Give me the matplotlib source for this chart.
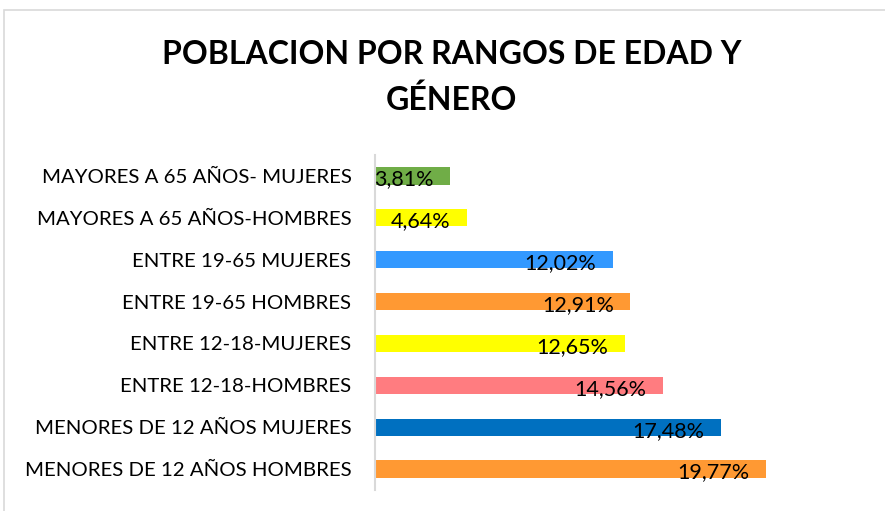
import matplotlib.pyplot as plt
from matplotlib.patches import Rectangle

plt.rcParams['font.family'] = ['Lato', 'DejaVu Sans']

categorias = ['MENORES DE 12 AÑOS HOMBRES', 'MENORES DE 12 AÑOS MUJERES',
              'ENTRE 12-18-HOMBRES', 'ENTRE 12-18-MUJERES',
              'ENTRE 19-65 HOMBRES', 'ENTRE 19-65 MUJERES',
              'MAYORES A 65 AÑOS-HOMBRES', 'MAYORES A 65 AÑOS- MUJERES']
valores = [19.77, 17.48, 14.56, 12.65, 12.91, 12.02, 4.64, 3.81]
colores = ['#FF9933', '#0070C0', '#FF7C80', '#FFFF00',
           '#FF9933', '#3399FF', '#FFFF00', '#70AD47']

fig = plt.figure(figsize=(8.85, 5.11), dpi=100)
fig.patches.append(Rectangle((4 / 885, -0.05), 1.0, 1 - 10 / 511 + 0.05,
                             transform=fig.transFigure, fill=False,
                             edgecolor='#D9D9D9', linewidth=1.2))

ax = fig.add_axes([375 / 885, 21 / 511, 440 / 885, 335 / 511])
y = range(len(categorias))
ax.barh(y, valores, height=0.41, color=colores)
ax.set_ylim(-0.5, len(categorias) - 0.5)
ax.set_xlim(0, 440 / 19.78)

for i, v in enumerate(valores):
    ax.annotate(f'{v:.2f}%'.replace('.', ','), (v, i), xytext=(-12, -2.5),
                textcoords='offset points', ha='right', va='center',
                fontsize=15.5, color='black')

ax.set_yticks(list(y))
ax.set_yticklabels(categorias, fontsize=14.7)
ax.tick_params(axis='y', length=0, pad=17)
ax.set_xticks([])
for s in ['top', 'right', 'bottom']:
    ax.spines[s].set_visible(False)
ax.spines['left'].set_color('#D9D9D9')
ax.spines['left'].set_linewidth(1.5)

fig.text(0.51, 0.848, 'POBLACION POR RANGOS DE EDAD Y\nGÉNERO', ha='center',
         va='center', fontsize=23, fontweight='bold', linespacing=1.6)

fig.savefig('out.png', dpi=100)
